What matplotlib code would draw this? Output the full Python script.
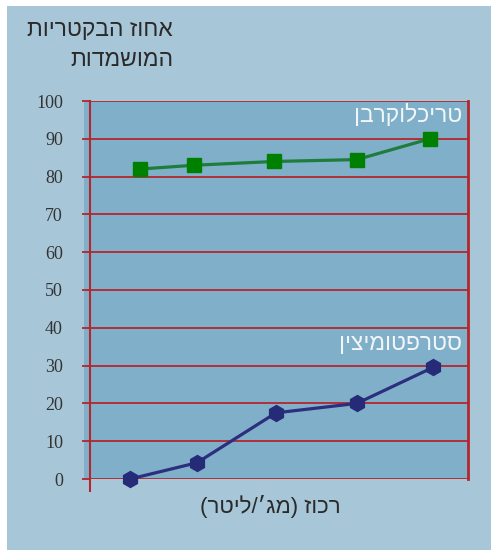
import matplotlib.pyplot as plt
from matplotlib.patches import Rectangle
from matplotlib.lines import Line2D

# concentration (no tick labels on the x axis) and percent of bacteria killed
triclo_x = [13.2, 27.5, 48.7, 70.6, 89.9]
triclo_y = [82, 83, 84, 84.5, 90]
strep_x = [10.6, 28.3, 49.2, 70.6, 90.7]
strep_y = [0, 4.3, 17.5, 20, 29.5]
yticks = [0, 10, 20, 30, 40, 50, 60, 70, 80, 90, 100]

title_lines = ["אחוז הבקטריות", "המושמדות"]
xlabel = "רכוז (מג׳/ליטר)"
triclo_name = "טריכלוקרבן"
strep_name = "סטרפטומיצין"


def rtl(s):
    # matplotlib lays text out left to right, so flip Hebrew by hand
    mirror = {"(": ")", ")": "("}
    return "".join(mirror.get(c, c) for c in reversed(s))


outer = "#a7c7d9"
inner = "#80b0c9"
red = "#b3262d"
heb = ["Liberation Sans", "DejaVu Sans"]

fig = plt.figure(figsize=(4.91, 5.50), dpi=100, facecolor="white")
fig.patches.append(Rectangle((7 / 491, 0), 1, 1 - 6 / 550, transform=fig.transFigure,
                             facecolor=outer, edgecolor="none", zorder=-10))

ax = fig.add_axes([90 / 491, 1 - 479 / 550, 378 / 491, 378 / 550])
ax.set_facecolor("none")
ax.add_patch(Rectangle((-6 / 378, 0), 1 + 6 / 378, 1, transform=ax.transAxes,
                       facecolor=inner, edgecolor="none", clip_on=False, zorder=-5))

ax.set_xlim(0, 100)
ax.set_ylim(0, 100)
ax.set_yticks(yticks)
ax.set_xticks([])
ax.grid(axis="y", color=red, linewidth=1.3, zorder=0)
ax.tick_params(axis="y", length=6, width=1.3, color=red, pad=13.5,
               labelsize=13, labelcolor="#333333")
for lab in ax.get_yticklabels():
    lab.set_fontfamily("Liberation Serif")

for side in ["top", "bottom"]:
    ax.spines[side].set_visible(False)
ax.spines["right"].set_color(red)
ax.spines["right"].set_linewidth(2)
ax.spines["left"].set_visible(False)
ax.add_line(Line2D([0, 0], [-12 / 378, 1], transform=ax.transAxes, color=red,
                   linewidth=1.5, clip_on=False))

ax.plot(triclo_x, triclo_y, color="#1e7d3c", linewidth=2.3, marker="s",
        markersize=10.5, markerfacecolor="#008000", markeredgecolor="#008000",
        zorder=3, clip_on=False)
ax.plot(strep_x, strep_y, color="#2b2f7d", linewidth=2.3, marker="h",
        markersize=11.5, markerfacecolor="#262b78", markeredgecolor="#262b78",
        zorder=3, clip_on=False)

fig.text(462 / 491, 1 - 115 / 550, rtl(triclo_name), ha="right", va="center",
         color="#f2f6f9", fontsize=16.5, family=heb)
fig.text(462 / 491, 1 - 344 / 550, rtl(strep_name), ha="right", va="center",
         color="#f2f6f9", fontsize=16.5, family=heb)

fig.text(173 / 491, 1 - 30 / 550, rtl(title_lines[0]), ha="right", va="center",
         fontsize=16.5, color="#2a2a2a", family=heb)
fig.text(173 / 491, 1 - 60 / 550, rtl(title_lines[1]), ha="right", va="center",
         fontsize=16.5, color="#2a2a2a", family=heb)
fig.text(270 / 491, 1 - 507 / 550, rtl(xlabel), ha="center", va="center",
         fontsize=16, color="#2a2a2a", family=heb)

fig.savefig("out.png", dpi=100, facecolor="white")
